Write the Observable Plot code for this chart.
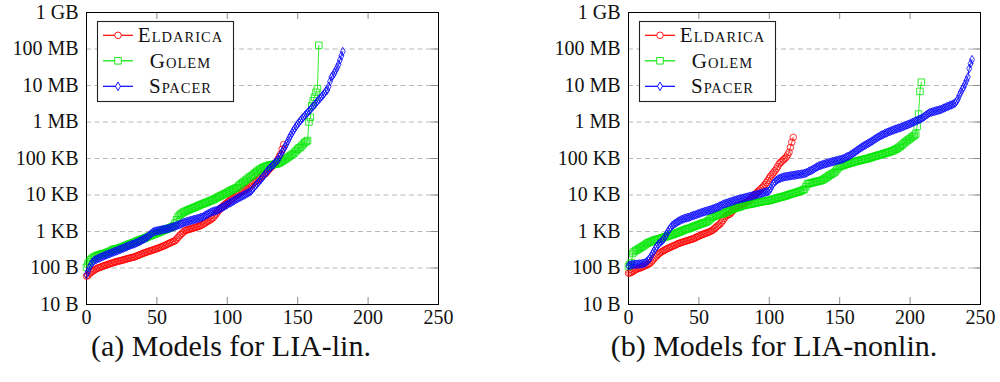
<!DOCTYPE html>
<html>
<head>
<meta charset="utf-8">
<script src="https://cdn.jsdelivr.net/npm/d3@7"></script>
<script src="https://cdn.jsdelivr.net/npm/@observablehq/plot@0.6"></script>
<style>
  html, body { margin: 0; padding: 0; background: #fff; }
  #page { position: relative; width: 1000px; height: 382px; overflow: hidden; background: #fff; }
  .panel { position: absolute; top: 0; width: 460px; height: 330px; }
  .caption { position: absolute; top: 334px; width: 400px; text-align: center; white-space: nowrap;
             font-family: 'Liberation Serif', 'DejaVu Serif', serif; font-size: 30px; line-height: 24px; color: #111; }
  #overlay { position: absolute; left: 0; top: 0; pointer-events: none; }
  .panel svg text { font-family: 'Liberation Serif', 'DejaVu Serif', serif; }
</style>
</head>
<body>
<div id="page"></div>
<script>
// Model sizes in bytes, sorted ascending per solver (x = rank of the instance)
const eldaricaLin = [
  60, 62, 70, 75, 80, 85, 90, 95, 100, 102,
  105, 110, 113, 117, 120, 124, 128, 132, 136, 140,
  145, 148, 152, 155, 158, 162, 166, 170, 175, 180,
  184, 188, 192, 196, 200, 208, 216, 224, 232, 240,
  250, 258, 266, 275, 285, 292, 300, 310, 320, 330,
  340, 352, 364, 376, 390, 405, 420, 440, 460, 480,
  500, 520, 540, 560, 620, 690, 760, 830, 900, 980,
  1060, 1090, 1120, 1150, 1180, 1210, 1250, 1280, 1320, 1360,
  1400, 1450, 1520, 1600, 1700, 1800, 1900, 2000, 2100, 2250,
  2400, 2700, 3000, 3400, 3800, 4200, 4600, 5000, 5400, 5800,
  6200, 6700, 7200, 7700, 8200, 8700, 9300, 10000, 10800, 11600,
  12400, 13000, 13700, 14400, 15200, 16000, 17500, 19000, 20500, 22000,
  23500, 25000, 27000, 29000, 32000, 35000, 37000, 38000, 42000, 47000,
  52000, 57000, 62000, 68000, 74000, 80000, 95000, 115000, 134000, 180000,
  240000
];
const golemLin = [
  105, 130, 150, 170, 185, 195, 205, 215, 222, 230,
  236, 240, 244, 250, 260, 270, 280, 290, 305, 320,
  330, 335, 340, 350, 360, 372, 385, 400, 415, 430,
  445, 460, 475, 490, 510, 530, 550, 570, 590, 610,
  630, 650, 675, 700, 730, 755, 780, 810, 840, 870,
  900, 930, 960, 1000, 1040, 1080, 1120, 1160, 1200, 1250,
  1300, 1350, 1450, 1700, 2100, 2500, 2800, 3000, 3200, 3400,
  3550, 3700, 3850, 4000, 4150, 4300, 4450, 4600, 4800, 5000,
  5200, 5400, 5600, 5800, 6000, 6200, 6400, 6700, 7000, 7100,
  7400, 7800, 8200, 8600, 9000, 9400, 9800, 10200, 10700, 11200,
  11800, 12400, 13000, 13600, 14200, 14800, 15400, 16000, 17500, 19000,
  20500, 22000, 23500, 25000, 27000, 29000, 31000, 33000, 35000, 38000,
  41000, 44000, 47000, 50000, 53000, 56000, 58000, 60000, 62000, 64000,
  66000, 67000, 68000, 69000, 70000, 71000, 73000, 76000, 80000, 85000,
  89000, 95000, 100000, 107000, 114000, 121000, 128000, 135000, 150000, 165000,
  180000, 195000, 204000, 225000, 250000, 275000, 290000, 310000, 1000000, 1350000,
  2800000, 3800000, 4800000, 6500000, 8200000, 126000000
];
const spacerLin = [
  66, 80, 100, 120, 140, 155, 165, 172, 180, 188,
  195, 203, 212, 220, 228, 236, 244, 252, 262, 272,
  282, 292, 300, 312, 324, 336, 348, 360, 375, 390,
  405, 420, 435, 448, 460, 480, 500, 520, 545, 570,
  600, 630, 660, 700, 750, 810, 870, 950, 1000, 1020,
  1040, 1060, 1080, 1100, 1120, 1140, 1160, 1180, 1200, 1240,
  1280, 1320, 1360, 1400, 1450, 1500, 1550, 1600, 1680, 1750,
  1800, 1850, 1900, 1950, 2000, 2050, 2100, 2150, 2200, 2260,
  2320, 2380, 2450, 2550, 2700, 2850, 3000, 3150, 3300, 3450,
  3550, 3650, 3750, 3850, 4050, 4250, 4450, 4700, 4950, 5200,
  5500, 5800, 6100, 6400, 6700, 7100, 7500, 7900, 8300, 8700,
  9100, 9500, 10000, 10500, 11000, 11600, 12200, 13000, 14500, 16000,
  18000, 20000, 22000, 24500, 27000, 30000, 34000, 38000, 43000, 48000,
  53000, 58000, 64000, 70000, 77000, 85000, 93000, 110000, 130000, 155000,
  180000, 210000, 250000, 300000, 360000, 430000, 500000, 590000, 680000, 780000,
  880000, 980000, 1100000, 1230000, 1350000, 1500000, 1650000, 1800000, 2000000, 2200000,
  2450000, 2700000, 3000000, 3300000, 3700000, 4100000, 4500000, 5000000, 5500000, 6200000,
  7000000, 7500000, 9500000, 13000000, 17000000, 19000000, 22000000, 26000000, 31000000, 38000000,
  50000000, 65000000, 85000000
];
const eldaricaNonlin = [
  72, 74, 76, 80, 85, 90, 94, 97, 100, 103,
  107, 112, 117, 122, 127, 133, 145, 160, 178, 196,
  215, 235, 255, 270, 285, 300, 315, 330, 345, 360,
  375, 390, 405, 420, 440, 460, 475, 490, 505, 520,
  535, 550, 565, 580, 600, 615, 630, 660, 690, 720,
  750, 780, 810, 840, 870, 900, 930, 960, 1000, 1050,
  1100, 1200, 1300, 1400, 1500, 1600, 1800, 2000, 2300, 2600,
  2800, 2900, 3000, 3300, 3700, 4100, 4600, 4900, 5100, 5300,
  5500, 5700, 5900, 6100, 6400, 6800, 7300, 7900, 8700, 9500,
  10500, 11500, 12500, 13500, 14700, 16000, 17500, 19500, 22000, 25000,
  29000, 33000, 37000, 41000, 46000, 52000, 60000, 71000, 78000, 85000,
  92000, 100000, 109000, 125000, 148000, 200000, 280000, 378000
];
const golemNonlin = [
  110, 125, 140, 250, 280, 300, 310, 330, 350, 370,
  390, 410, 440, 470, 490, 510, 530, 550, 570, 590,
  600, 620, 630, 650, 670, 690, 710, 730, 750, 770,
  790, 820, 850, 870, 900, 930, 960, 1000, 1040, 1080,
  1120, 1160, 1200, 1200, 1250, 1300, 1350, 1400, 1450, 1500,
  1550, 1600, 1650, 1700, 1750, 1800, 1900, 2000, 2200, 2400,
  2500, 2600, 2700, 2800, 2900, 3000, 3000, 3100, 3200, 3400,
  3500, 3650, 3800, 3950, 4100, 4250, 4400, 4500, 4600, 4700,
  4900, 5100, 5200, 5300, 5400, 5500, 5600, 5700, 5800, 5900,
  6000, 6200, 6300, 6400, 6500, 6600, 6700, 6800, 6900, 7000,
  7100, 7300, 7500, 7700, 7900, 8100, 8300, 8500, 8700, 8900,
  9100, 9300, 9600, 9900, 10200, 10500, 10800, 11100, 11400, 11700,
  12000, 12400, 12800, 13200, 13700, 14500, 17000, 20000, 20500, 21000,
  21500, 22000, 22500, 23000, 23500, 24000, 24500, 25000, 26000, 27500,
  29000, 31000, 33000, 35000, 37000, 39000, 41000, 44000, 50000, 56000,
  60000, 62000, 64000, 66000, 68000, 70000, 72000, 74000, 76000, 78000,
  80000, 82000, 84000, 86000, 88000, 90000, 92000, 94000, 96000, 98000,
  100000, 103000, 106000, 109000, 112000, 115000, 118000, 121000, 124000, 127000,
  130000, 134000, 138000, 142000, 146000, 150000, 155000, 160000, 165000, 172000,
  180000, 190000, 200000, 215000, 230000, 250000, 270000, 290000, 310000, 330000,
  350000, 380000, 400000, 430000, 470000, 760000, 1650000, 6900000, 12300000
];
const spacerNonlin = [
  115, 120, 122, 124, 125, 126, 127, 128, 129, 130,
  132, 135, 140, 150, 165, 180, 210, 245, 290, 340,
  390, 440, 480, 520, 560, 620, 720, 850, 1000, 1150,
  1300, 1450, 1550, 1650, 1750, 1850, 1950, 2050, 2150, 2200,
  2300, 2350, 2400, 2450, 2550, 2650, 2750, 2800, 2900, 3000,
  3100, 3200, 3300, 3400, 3500, 3600, 3700, 3800, 3900, 4000,
  4150, 4300, 4450, 4600, 4800, 5000, 5200, 5500, 5700, 5800,
  6000, 6200, 6400, 6600, 6800, 7000, 7200, 7400, 7600, 7800,
  7900, 8100, 8300, 8500, 8700, 8900, 9100, 9300, 9500, 9800,
  10000, 10300, 10500, 10700, 11000, 11300, 11600, 11900, 12200, 12500,
  13000, 15000, 18000, 21000, 23000, 25000, 26500, 28000, 29000, 30000,
  31000, 31500, 32000, 32500, 33000, 33500, 34000, 34500, 35000, 35500,
  36000, 36500, 37000, 37500, 38000, 39000, 40000, 42000, 44000, 46000,
  48000, 50000, 53000, 56000, 59000, 62000, 64000, 66000, 68000, 70000,
  72000, 74000, 76000, 78000, 80000, 82000, 84000, 86000, 88000, 90000,
  92000, 94000, 97000, 100000, 105000, 110000, 115000, 120000, 127000, 135000,
  143000, 152000, 162000, 172000, 184000, 196000, 208000, 220000, 232000, 244000,
  256000, 270000, 285000, 300000, 320000, 340000, 360000, 380000, 400000, 420000,
  440000, 460000, 480000, 500000, 520000, 540000, 560000, 580000, 600000, 620000,
  640000, 660000, 680000, 700000, 720000, 750000, 780000, 810000, 840000, 870000,
  900000, 940000, 980000, 1020000, 1060000, 1100000, 1150000, 1200000, 1250000, 1300000,
  1400000, 1500000, 1600000, 1700000, 1800000, 1850000, 1900000, 1950000, 2000000, 2050000,
  2100000, 2150000, 2200000, 2300000, 2400000, 2500000, 2600000, 2700000, 2800000, 2900000,
  3000000, 3150000, 3300000, 3700000, 4300000, 5400000, 6500000, 7800000, 9000000, 11000000,
  13700000, 17000000, 29000000, 40000000, 51000000
];

// Solver names, colours and marker shapes
const solvers = ["Eldarica", "Golem", "Spacer"];
const solverColors = ["#ff0000", "#00e600", "#0000ff"];
const solverSymbols = ["circle", "square", "diamond"];
const solverRadius = [3.3, 3.7, 2.6];

// Axis ticks
const xTicks = [0, 50, 100, 150, 200, 250];
const yTicks = [1e1, 1e2, 1e3, 1e4, 1e5, 1e6, 1e7, 1e8, 1e9];
const yLabels = ["10 B", "100 B", "1 KB", "10 KB", "100 KB", "1 MB", "10 MB", "100 MB", "1 GB"];

const captions = ["(a) Models for LIA-lin.", "(b) Models for LIA-nonlin."];

const FONT = "'Liberation Serif', 'DejaVu Serif', serif";
const page = document.getElementById("page");

function drawPanel(seriesList, left, marginLeft) {
  const width = 460, height = 330;
  const marginRight = width - marginLeft - 352, marginTop = 12, marginBottom = 26;
  const frameW = width - marginLeft - marginRight;
  const frameH = height - marginTop - marginBottom;
  const inner = yTicks.slice(1, -1);
  const innerX = xTicks.slice(1, -1);
  const marks = [
    Plot.ruleY(inner, {stroke: "#b8b8b8", strokeWidth: 1, strokeDasharray: "5,3.5"}),
    Plot.ruleX(innerX, {stroke: "#8c8c8c", insetTop: frameH - 7}),
    Plot.ruleX(innerX, {stroke: "#8c8c8c", insetBottom: frameH - 7}),
    Plot.ruleY(inner, {stroke: "#8c8c8c", insetLeft: frameW - 7}),
    Plot.frame({stroke: "#000", strokeWidth: 1}),
    Plot.axisX(xTicks, {anchor: "bottom", tickSize: 0, tickPadding: 5, fontSize: 20, label: null}),
    Plot.axisY(yTicks, {anchor: "left", tickSize: 0, tickPadding: 8, fontSize: 20, label: null,
      tickFormat: d => yLabels[yTicks.indexOf(d)]})
  ];
  seriesList.forEach((values, k) => {
    const rows = values.map((v, i) => ({rank: i, size: v}));
    marks.push(Plot.line(rows, {x: "rank", y: "size", stroke: solverColors[k], strokeWidth: 0.8}));
    marks.push(Plot.dot(rows, {x: "rank", y: "size", symbol: solverSymbols[k], r: solverRadius[k],
      stroke: solverColors[k], fill: "none", strokeWidth: 0.8}));
  });
  const chart = Plot.plot({
    width, height, marginLeft, marginRight, marginTop, marginBottom,
    style: {fontFamily: FONT, fontSize: "20px", color: "#111", background: "transparent"},
    x: {domain: [0, 250], label: null},
    y: {type: "log", domain: [1e1, 1e9], label: null},
    marks
  });
  const div = document.createElement("div");
  div.className = "panel";
  div.style.left = left + "px";
  div.appendChild(chart);
  page.appendChild(div);
}

drawPanel([eldaricaLin, golemLin, spacerLin], 0, 86);
drawPanel([eldaricaNonlin, golemNonlin, spacerNonlin], 540, 88);

// Legends inside the upper-left corner of each plot
const overlay = d3.select(page).append("svg")
  .attr("id", "overlay").attr("width", 1000).attr("height", 382);
const d3Symbols = [d3.symbolCircle, d3.symbolSquare, d3.symbolDiamond];
const rowY = [35.3, 60.8, 86.3];

function drawLegend(bx) {
  const g = overlay.append("g");
  g.append("rect")
    .attr("x", bx + 0.5).attr("y", 21.5).attr("width", 136).attr("height", 80)
    .attr("fill", "#fff").attr("stroke", "#222").attr("stroke-width", 1.1);
  solvers.forEach((name, k) => {
    const y = rowY[k];
    g.append("line")
      .attr("x1", bx + 6).attr("x2", bx + 36).attr("y1", y).attr("y2", y)
      .attr("stroke", solverColors[k]).attr("stroke-width", 1.2);
    g.append("path")
      .attr("d", d3.symbol(d3Symbols[k], Math.PI * solverRadius[k] ** 2)())
      .attr("transform", `translate(${bx + 21},${y})`)
      .attr("fill", "#fff").attr("stroke", solverColors[k]).attr("stroke-width", 0.9);
    const t = g.append("text")
      .attr("x", bx + 83.5).attr("y", y + 7)
      .attr("text-anchor", "middle")
      .style("font-family", FONT).attr("fill", "#111")
      .attr("letter-spacing", 1);
    t.append("tspan").attr("font-size", 21).text(name[0]);
    t.append("tspan").attr("font-size", 14.5).text(name.slice(1).toUpperCase());
  });
}
drawLegend(97);
drawLegend(639);

// Sub-figure captions
[[31, captions[0]], [574, captions[1]]].forEach(([left, text]) => {
  const c = document.createElement("div");
  c.className = "caption";
  c.style.left = left + "px";
  c.textContent = text;
  page.appendChild(c);
});
</script>
</body>
</html>
